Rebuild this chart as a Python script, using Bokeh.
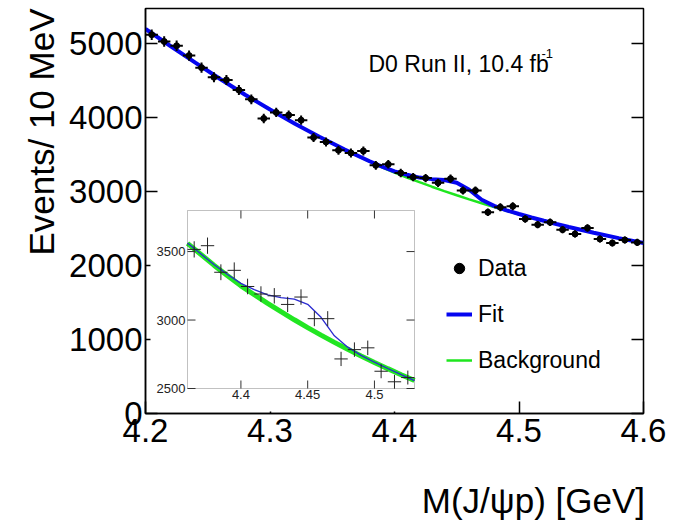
import numpy as np
from bokeh.plotting import figure
from bokeh.layouts import column
from bokeh.models import (Range1d, LinearAxis, FixedTicker, Title, Label, Legend,
                          LegendItem, BoxAnnotation, ColumnDataSource)
from bokeh.embed import file_html
from bokeh.resources import INLINE

# ---------------- data ----------------
bin_centers = [4.205, 4.215, 4.225, 4.235, 4.245, 4.255, 4.265, 4.275, 4.285, 4.295,
               4.305, 4.315, 4.325, 4.335, 4.345, 4.355, 4.365, 4.375, 4.385, 4.395,
               4.405, 4.415, 4.425, 4.435, 4.445, 4.455, 4.465, 4.475, 4.485, 4.495,
               4.505, 4.515, 4.525, 4.535, 4.545, 4.555, 4.565, 4.575, 4.585, 4.595]
counts = [5112, 5021, 4963, 4831, 4668, 4538, 4502, 4366, 4240, 3982,
          4064, 4027, 3959, 3725, 3665, 3553, 3516, 3543, 3349, 3363,
          3245, 3190, 3177, 3114, 3168, 3010, 3010, 2716, 2784, 2797,
          2626, 2549, 2580, 2481, 2423, 2504, 2355, 2301, 2342, 2309]
bin_half_width = 0.005

curve_mass = [4.20, 4.22, 4.24, 4.26, 4.28, 4.30, 4.32, 4.34, 4.36, 4.38, 4.39,
              4.40, 4.41, 4.42, 4.43, 4.44, 4.45, 4.46, 4.47, 4.48, 4.49, 4.50,
              4.51, 4.52, 4.53, 4.54, 4.56, 4.58, 4.60]
background = [5190, 4960, 4736, 4514, 4302, 4102, 3912, 3732, 3560, 3399, 3323,
              3250, 3185, 3122, 3061, 3002, 2945, 2890, 2837, 2786, 2737, 2690,
              2645, 2601, 2558, 2517, 2439, 2367, 2300]
fit = [5190, 4960, 4736, 4514, 4302, 4102, 3912, 3732, 3562, 3404, 3332,
       3268, 3222, 3184, 3163, 3152, 3115, 3020, 2885, 2802, 2742, 2692,
       2646, 2601, 2558, 2517, 2439, 2367, 2300]

x_ticks = [4.2, 4.3, 4.4, 4.5, 4.6]
y_ticks = [0, 1000, 2000, 3000, 4000, 5000]

inset_x_ticks = [4.4, 4.45, 4.5]
inset_x_labels = ["4.4", "4.45", "4.5"]
inset_y_ticks = [2500, 3000, 3500]
inset_y_labels = ["2500", "3000", "3500"]
inset_x_lo, inset_x_hi = 4.36, 4.53
inset_y_lo, inset_y_hi = 2500, 3800

# ---------------- layout (pixels) ----------------
W, H = 679, 521
H_MAIN = 460                                 # main figure height; x title strip below
F_L, F_R, F_T, F_B = 145, 643, 8, 413
I_L, I_R, I_T, I_B = 187, 414, 210, 388      # inset frame
BG_L, BG_R, BG_T, BG_B = 150, 420, 205, 411  # inset white pad
XTITLE_CY = 500                              # x title vertical centre (page px)
XTITLE_NUDGE = 28                            # horizontal correction for the x title
FONT = "Liberation Sans"

x_lo, x_hi = 4.2, 4.6
y_lo, y_hi = 0, 5466

p = figure(width=W, height=H_MAIN, x_range=Range1d(x_lo, x_hi), y_range=Range1d(y_lo, y_hi),
           output_backend="svg", toolbar_location=None,
           min_border_left=F_L, min_border_right=W - F_R,
           min_border_top=F_T, min_border_bottom=H_MAIN - F_B)
p.grid.visible = False
p.outline_line_color = "black"
p.outline_line_width = 1.5
p.background_fill_color = "white"
p.border_fill_color = "white"

for ax in (p.xaxis[0], p.yaxis[0]):
    ax.major_tick_in = 12
    ax.major_tick_out = 0
    ax.minor_tick_in = 0
    ax.minor_tick_out = 0
    ax.axis_line_width = 1.5
    ax.major_tick_line_width = 1.5
    ax.major_label_text_font = FONT
    ax.major_label_text_font_size = "33px"
    ax.major_label_text_color = "black"
p.xaxis[0].ticker = FixedTicker(ticks=x_ticks)
p.yaxis[0].ticker = FixedTicker(ticks=y_ticks)
p.xaxis[0].major_label_standoff = 5
p.yaxis[0].major_label_standoff = 3

right_axis = LinearAxis(ticker=FixedTicker(ticks=y_ticks), major_tick_in=12, major_tick_out=0,
                        minor_tick_in=0, minor_tick_out=0,
                        major_label_overrides={t: "" for t in y_ticks},
                        major_tick_line_width=1.5, axis_line_color=None, major_label_standoff=0)
p.add_layout(right_axis, "right")

p.add_layout(Title(text="Events/ 10 MeV", align="right", text_font=FONT, text_color="black",
                   text_font_size="35px", text_font_style="normal", standoff=11), "left")

# ---------------- main plot ----------------
mass = np.array(bin_centers)
n = np.array(counts, dtype=float)
err = np.sqrt(n)
src = ColumnDataSource(dict(x=mass, y=n, xl=mass - bin_half_width, xr=mass + bin_half_width,
                            yl=n - err, yh=n + err))

r_bkg = p.line(curve_mass, background, line_color="#1ee61e", line_width=2.5)
r_fit = p.line(curve_mass, fit, line_color="#0505f0", line_width=4)
p.segment(x0="xl", x1="xr", y0="y", y1="y", source=src, line_color="black", line_width=2)
p.segment(x0="x", x1="x", y0="yl", y1="yh", source=src, line_color="black", line_width=2)
r_pts = p.scatter(x="x", y="y", source=src, size=6, marker="circle", color="black")

legend = Legend(items=[LegendItem(label="Data", renderers=[r_pts]),
                       LegendItem(label="Fit", renderers=[r_fit]),
                       LegendItem(label="Background", renderers=[r_bkg])],
                location=(301, 38), glyph_width=26, glyph_height=30, spacing=16,
                label_standoff=6, padding=0, margin=0, border_line_alpha=0,
                background_fill_alpha=0, label_text_font=FONT, label_text_font_size="23px",
                label_text_color="black")
p.add_layout(legend)

p.add_layout(Label(x=4.3791, y=4723, text="D0 Run II, 10.4 fb", text_font=FONT,
                   text_font_size="23px", text_baseline="alphabetic", text_color="black"))
p.add_layout(Label(x=4.5180, y=4858, text="-1", text_font=FONT,
                   text_font_size="13px", text_baseline="alphabetic", text_color="black"))

# ---------------- inset (drawn on extra ranges mapped onto the inset box) ----------------
sx = (I_R - I_L) / (inset_x_hi - inset_x_lo)
sy = (I_B - I_T) / (inset_y_hi - inset_y_lo)
ix0 = inset_x_lo - (I_L - F_L) / sx
ix1 = inset_x_hi + (F_R - I_R) / sx
iy0 = inset_y_lo - (F_B - I_B) / sy
iy1 = inset_y_hi + (I_T - F_T) / sy
p.extra_x_ranges = {"ix": Range1d(ix0, ix1)}
p.extra_y_ranges = {"iy": Range1d(iy0, iy1)}

def px_to_ix(px):
    return inset_x_lo + (px - I_L) / sx

def py_to_iy(py):
    return inset_y_lo + (I_B - py) / sy

p.add_layout(BoxAnnotation(left=px_to_ix(BG_L), right=px_to_ix(BG_R),
                           bottom=py_to_iy(BG_B), top=py_to_iy(BG_T),
                           x_range_name="ix", y_range_name="iy",
                           fill_color="white", fill_alpha=1.0, line_alpha=0,
                           level="annotation"))

cm = np.array(curve_mass)
sel_c = (cm >= inset_x_lo - 1e-9) & (cm <= inset_x_hi + 1e-9)
sel_d = (mass > inset_x_lo) & (mass < inset_x_hi)
p.line(cm[sel_c], np.array(background)[sel_c], line_color="#22e622", line_width=5,
       x_range_name="ix", y_range_name="iy", level="overlay")
p.line(cm[sel_c], np.array(fit)[sel_c], line_color="#2a2ad0", line_width=1.3,
       x_range_name="ix", y_range_name="iy", level="overlay")
isrc = ColumnDataSource(dict(x=mass[sel_d], y=n[sel_d],
                             xl=mass[sel_d] - bin_half_width, xr=mass[sel_d] + bin_half_width,
                             yl=n[sel_d] - err[sel_d], yh=n[sel_d] + err[sel_d]))
p.segment(x0="xl", x1="xr", y0="y", y1="y", source=isrc, line_color="#222222", line_width=1,
          x_range_name="ix", y_range_name="iy", level="overlay")
p.segment(x0="x", x1="x", y0="yl", y1="yh", source=isrc, line_color="#222222", line_width=1,
          x_range_name="ix", y_range_name="iy", level="overlay")

tick_px = 8
tx0, tx1, ty0, ty1 = [], [], [], []
for t in inset_x_ticks:
    tx0 += [t, t]; tx1 += [t, t]
    ty0 += [inset_y_lo, inset_y_hi]; ty1 += [inset_y_lo + tick_px / sy, inset_y_hi - tick_px / sy]
for t in inset_y_ticks:
    tx0 += [inset_x_lo, inset_x_hi]; tx1 += [inset_x_lo + tick_px / sx, inset_x_hi - tick_px / sx]
    ty0 += [t, t]; ty1 += [t, t]
p.segment(x0=tx0, x1=tx1, y0=ty0, y1=ty1, line_color="#333333", line_width=1,
          x_range_name="ix", y_range_name="iy", level="overlay")

p.add_layout(BoxAnnotation(left=inset_x_lo, right=inset_x_hi, bottom=inset_y_lo, top=inset_y_hi,
                           x_range_name="ix", y_range_name="iy", fill_alpha=0,
                           line_color="#333333", line_width=1, level="overlay"))

for t, s in zip(inset_x_ticks, inset_x_labels):
    p.add_layout(Label(x=t, y=inset_y_lo, text=s, x_range_name="ix", y_range_name="iy",
                       text_align="center", text_baseline="top", y_offset=-1,
                       text_font=FONT, text_font_size="13px", text_color="#222222",
                       level="overlay"))
for t, s in zip(inset_y_ticks, inset_y_labels):
    p.add_layout(Label(x=inset_x_lo, y=t, text=s, x_range_name="ix", y_range_name="iy",
                       text_align="right", text_baseline="middle", x_offset=-2,
                       text_font=FONT, text_font_size="13px", text_color="#222222",
                       level="overlay"))

# ---------------- x-axis title strip (right-aligned with the frame) ----------------
H_STRIP = H - H_MAIN
strip = figure(width=W, height=H_STRIP, x_range=Range1d(0, W), y_range=Range1d(0, H_STRIP),
               output_backend="svg", toolbar_location=None,
               min_border=0, min_border_left=0, min_border_right=0,
               min_border_top=0, min_border_bottom=0,
               x_axis_location=None, y_axis_location=None)
strip.grid.visible = False
strip.outline_line_color = None
strip.background_fill_color = "white"
strip.border_fill_color = "white"
strip.add_layout(Label(x=F_R, y=H - XTITLE_CY, x_offset=XTITLE_NUDGE, text="M(J/\u03c8p) [GeV]",
                       text_align="right", text_baseline="middle", text_font=FONT,
                       text_font_size="35px", text_color="black"))

layout = column(p, strip, spacing=0)
open("out.html", "w").write(file_html(layout, INLINE))
